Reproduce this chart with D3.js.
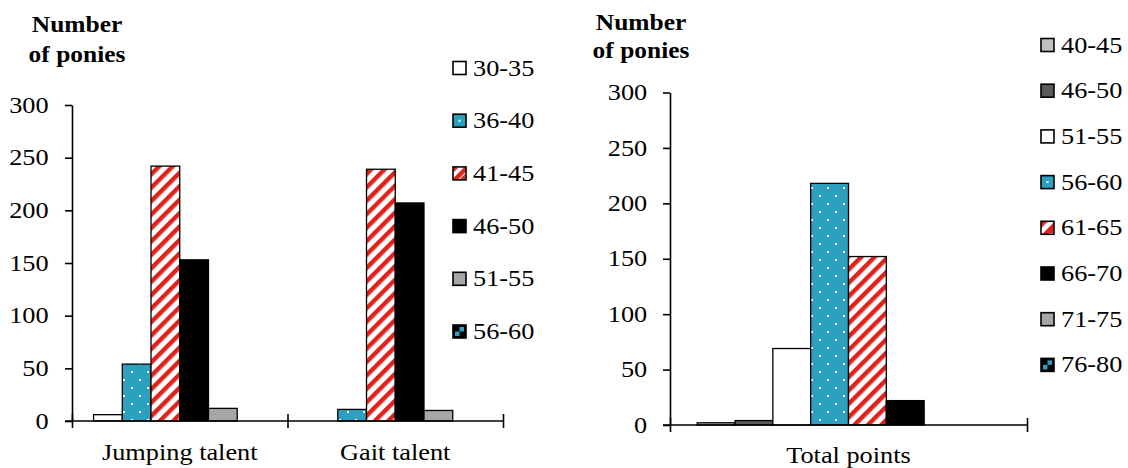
<!DOCTYPE html>
<html>
<head>
<meta charset="utf-8">
<script src="https://cdn.jsdelivr.net/npm/d3@7"></script>
<style>
  html, body { margin: 0; padding: 0; background: #fff; }
  svg { display: block; }
  text { font-family: "Liberation Serif", "Times New Roman", serif; fill: #000; }
</style>
</head>
<body>
<svg id="chart" width="1128" height="468"></svg>
<script>
// ---- data ----
const leftCategories = ["Jumping talent", "Gait talent"];
const leftSeries = ["30-35", "36-40", "41-45", "46-50", "51-55", "56-60"];
const jumpingValues = [6, 54, 242, 153, 12, 0];
const gaitValues = [0, 11, 239, 207, 10, 0];

const rightCategories = ["Total points"];
const rightSeries = ["40-45", "46-50", "51-55", "56-60", "61-65", "66-70", "71-75", "76-80"];
const totalValues = [2, 4, 69, 218, 152, 22, 0, 0];

const yTickValues = [0, 50, 100, 150, 200, 250, 300];
const yTitle = ["Number", "of ponies"];

// ---- styling ----
const TEAL = "#2ba1bf", RED = "#e2211c";
const leftStyles = ["white", "dots", "stripes", "black", "gray", "checker"];
const rightStyles = ["lightgray", "darkgray", "white", "dots", "stripes", "black", "gray", "checker"];
const solid = { white: "#ffffff", black: "#000000", gray: "#a6a6a6", lightgray: "#bfbfbf", darkgray: "#595959" };
const SX = 1.17;          // horizontal stretch of the serif text
const FS = 22.5;          // body font size

const svg = d3.select("#chart");
const defs = svg.append("defs");

// white dots on teal, staggered grid
const dots = defs.append("pattern").attr("id", "dots")
  .attr("patternUnits", "userSpaceOnUse").attr("width", 16).attr("height", 16);
dots.append("rect").attr("width", 16).attr("height", 16).attr("fill", TEAL);
dots.append("rect").attr("x", 3).attr("y", 3).attr("width", 2).attr("height", 2).attr("fill", "#fff");
dots.append("rect").attr("x", 11).attr("y", 11).attr("width", 2).attr("height", 2).attr("fill", "#fff");

// red diagonal stripes on white
const stripes = defs.append("pattern").attr("id", "stripes")
  .attr("patternUnits", "userSpaceOnUse").attr("width", 9.5).attr("height", 9.5)
  .attr("patternTransform", "rotate(45)");
stripes.append("rect").attr("width", 9.5).attr("height", 9.5).attr("fill", "#fff");
stripes.append("rect").attr("width", 4.4).attr("height", 9.5).attr("fill", RED);

function fillFor(style) {
  if (style === "dots") return "url(#dots)";
  if (style === "stripes") return "url(#stripes)";
  if (style === "checker") return "#000";
  return solid[style];
}

function stretchedText(g, x, y, str, opts = {}) {
  return g.append("text")
    .attr("transform", `translate(${x},${y}) scale(${opts.sx || SX},1)`)
    .attr("text-anchor", opts.anchor || "start")
    .style("font-size", (opts.size || FS) + "px")
    .style("font-weight", opts.weight || "normal")
    .text(str);
}

function drawSwatch(g, style, x, y, s) {
  g.append("rect").attr("x", x).attr("y", y).attr("width", s).attr("height", s)
    .attr("fill", style === "dots" ? TEAL : fillFor(style))
    .attr("stroke", "#000").attr("stroke-width", 1.6);
  if (style === "dots") {
    g.append("rect").attr("x", x + s / 2 - 1).attr("y", y + s / 2 - 1)
      .attr("width", 2).attr("height", 2).attr("fill", "#fff");
  } else if (style === "stripes") {
    g.append("path").attr("fill", RED)
      .attr("d", `M${x + 1},${y + 1}h4l-4,4z M${x + s - 1},${y + s - 1}h-5l5,-5z`);
  } else if (style === "checker") {
    g.append("rect").attr("x", x + s / 2).attr("y", y + 2).attr("width", s / 2 - 2).attr("height", s / 2 - 2).attr("fill", TEAL);
    g.append("rect").attr("x", x + 2).attr("y", y + s / 2).attr("width", s / 2 - 2).attr("height", s / 2 - 2).attr("fill", TEAL);
  }
}

// Draws one clustered-bar panel.
function panel(cfg) {
  const g = svg.append("g");
  const x = d3.scaleBand().domain(cfg.categories).range([cfg.x0, cfg.x1]).padding(0);
  const xs = d3.scaleBand().domain(cfg.series).range([0, x.bandwidth()])
    .paddingInner(0).paddingOuter(cfg.outer);
  const y = d3.scaleLinear().domain([0, 300]).range([cfg.y0, cfg.y1]);

  // bars
  cfg.categories.forEach((cat, ci) => {
    const vals = cfg.values[ci];
    g.append("g").selectAll("rect")
      .data(cfg.series.map((s, i) => ({ s, v: vals[i], style: cfg.styles[i] })).filter(d => d.v > 0))
      .join("rect")
      .attr("x", d => x(cat) + xs(d.s))
      .attr("y", d => y(d.v))
      .attr("width", xs.bandwidth())
      .attr("height", d => y(0) - y(d.v))
      .attr("fill", d => fillFor(d.style))
      .attr("stroke", "#000").attr("stroke-width", 1.3);
  });

  // y axis
  const ya = g.append("g").attr("transform", `translate(${cfg.x0},0)`)
    .call(d3.axisLeft(y).tickValues(yTickValues).tickSizeInner(7).tickSizeOuter(0).tickPadding(cfg.pad));
  ya.select(".domain").attr("stroke-width", 1.6);
  ya.selectAll(".tick line").attr("stroke-width", 1.6);
  ya.selectAll(".tick text").style("font-size", FS + "px").style("font-family", "Liberation Serif")
    .attr("transform", `scale(${SX},1)`);

  // x axis: ticks at category boundaries
  const xb = d3.scaleLinear().domain([0, cfg.categories.length]).range([cfg.x0, cfg.x1]);
  const xa = g.append("g").attr("transform", `translate(0,${cfg.y0})`)
    .call(d3.axisBottom(xb).tickValues(d3.range(cfg.categories.length + 1)).tickSizeOuter(0).tickFormat(""));
  xa.select(".domain").attr("stroke-width", 1.6).attr("d", `M${cfg.x0 - 7},0H${cfg.x1}`);
  xa.selectAll(".tick line").attr("y1", -7).attr("y2", 7).attr("stroke-width", 1.6);

  // category labels
  cfg.categories.forEach(cat => {
    stretchedText(g, x(cat) + x.bandwidth() / 2, cfg.labelY, cat, { anchor: "middle" });
  });

  // axis title
  yTitle.forEach((t, i) => {
    stretchedText(g, cfg.titleX, cfg.titleY[i], t, { anchor: "middle", weight: "bold", size: 24, sx: 1.06 });
  });

  // legend
  cfg.series.forEach((s, i) => {
    const cy = cfg.legY0 + i * cfg.legStep;
    drawSwatch(g, cfg.styles[i], cfg.legX, cy - 6.5, 13);
    stretchedText(g, cfg.legX + 20, cy + 7.5, s);
  });
}

panel({
  categories: leftCategories, series: leftSeries, styles: leftStyles,
  values: [jumpingValues, gaitValues],
  x0: 72, x1: 503, y0: 421, y1: 105, outer: 0.75, pad: 13,
  labelY: 460, titleX: 77, titleY: [32, 62],
  legX: 453, legY0: 68, legStep: 52.7
});

panel({
  categories: rightCategories, series: rightSeries, styles: rightStyles,
  values: [totalValues],
  x0: 670, x1: 1027, y0: 425, y1: 92.5, outer: 0.72, pad: 12.5,
  labelY: 463, titleX: 641, titleY: [30, 58],
  legX: 1041, legY0: 45, legStep: 45.7
});
</script>
</body>
</html>
